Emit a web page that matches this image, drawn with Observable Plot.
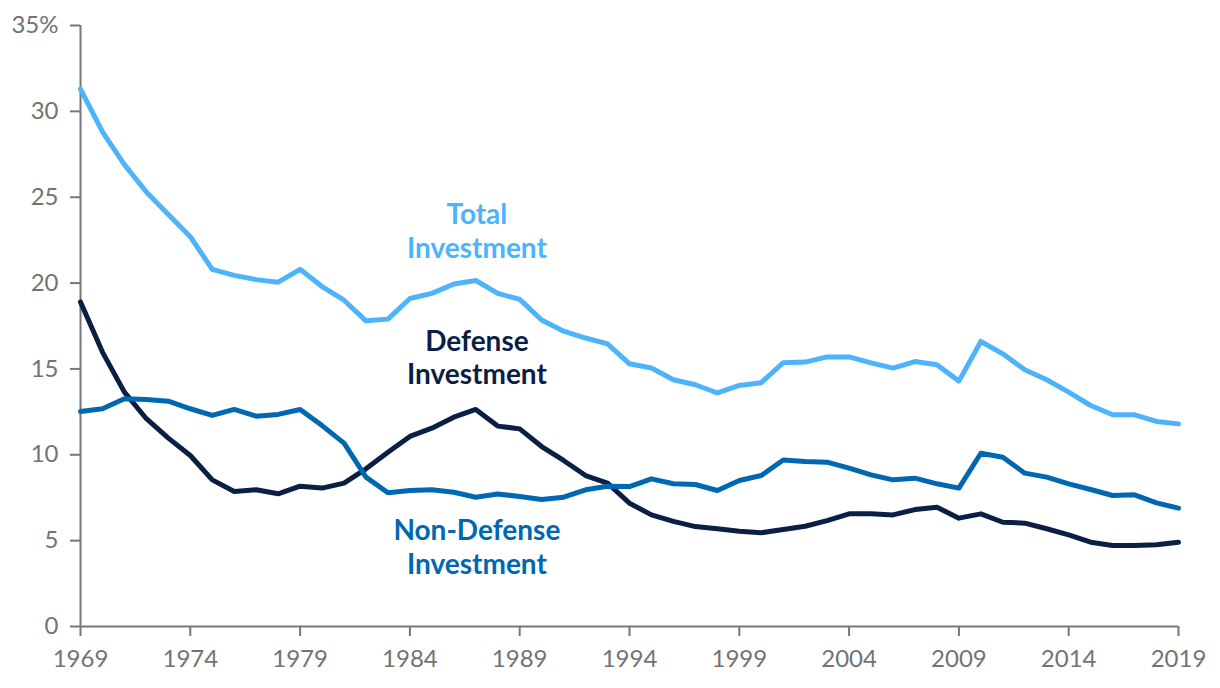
<!DOCTYPE html>
<html>
<head>
<meta charset="utf-8">
<script src="https://cdn.jsdelivr.net/npm/d3@7"></script>
<script src="https://cdn.jsdelivr.net/npm/@observablehq/plot@0.6"></script>
<style>
  html, body { margin: 0; padding: 0; background: #fff; }
  #chart { width: 1220px; height: 688px; }
</style>
</head>
<body>
<div id="chart"></div>
<script>
const years = d3.range(1969, 2020);

const totalInvestment = [
  31.3, 28.8, 26.9, 25.3, 24.0, 22.7, 20.8, 20.45, 20.2, 20.05,
  20.8, 19.8, 19.0, 17.8, 17.9, 19.1, 19.4, 19.95, 20.15, 19.4,
  19.05, 17.85, 17.2, 16.8, 16.46, 15.3, 15.05, 14.37, 14.08, 13.6,
  14.04, 14.2, 15.36, 15.4, 15.7, 15.7, 15.35, 15.05, 15.43, 15.24,
  14.29, 16.6, 15.88, 14.95, 14.37, 13.65, 12.87, 12.33, 12.33, 11.94,
  11.8
];

const defenseInvestment = [
  18.9, 15.98, 13.65, 12.1, 10.97, 9.96, 8.54, 7.86, 7.96, 7.73,
  8.17, 8.06, 8.35, 9.18, 10.15, 11.07, 11.55, 12.19, 12.64, 11.67,
  11.51, 10.48, 9.67, 8.79, 8.35, 7.18, 6.5, 6.12, 5.82, 5.69,
  5.55, 5.46, 5.65, 5.84, 6.17, 6.56, 6.56, 6.5, 6.81, 6.95,
  6.31, 6.56, 6.07, 6.02, 5.69, 5.34, 4.91, 4.72, 4.72, 4.76,
  4.91
];

const nonDefenseInvestment = [
  12.52, 12.68, 13.26, 13.22, 13.12, 12.68, 12.29, 12.64, 12.25, 12.35,
  12.64, 11.7, 10.68, 8.7, 7.79, 7.92, 7.96, 7.82, 7.53, 7.72,
  7.57, 7.4, 7.53, 7.96, 8.17, 8.15, 8.6, 8.31, 8.27, 7.92,
  8.5, 8.79, 9.7, 9.61, 9.57, 9.22, 8.83, 8.54, 8.64, 8.31,
  8.06, 10.09, 9.86, 8.93, 8.7, 8.31, 7.98, 7.63, 7.67, 7.2,
  6.89
];

const xTicks = [1969, 1974, 1979, 1984, 1989, 1994, 1999, 2004, 2009, 2014, 2019];
const yTicks = [0, 5, 10, 15, 20, 25, 30, 35];

const seriesNames = ["Total Investment", "Defense Investment", "Non-Defense Investment"];
const seriesColors = ["#4db3fb", "#0b1f44", "#0068b1"];
const labelTexts = ["Total\nInvestment", "Defense\nInvestment", "Non-Defense\nInvestment"];
const labelYears = [1987.05, 1987.05, 1987.05];
const labelValues = [23.08, 15.72, 4.66];

const seriesValues = [totalInvestment, defenseInvestment, nonDefenseInvestment];
const rows = [];
seriesNames.forEach((name, i) => {
  years.forEach((yr, j) => rows.push({series: name, year: yr, value: seriesValues[i][j]}));
});
const labels = seriesNames.map((name, i) => ({
  series: name, text: labelTexts[i], year: labelYears[i], value: labelValues[i]
}));

const axisColor = "#777777";

const chart = Plot.plot({
  width: 1220,
  height: 688,
  marginLeft: 80,
  marginRight: 42,
  marginTop: 25,
  marginBottom: 62,
  style: { fontFamily: "Lato, 'Noto Sans', sans-serif", background: "#fff", color: "#737373" },
  x: { domain: [1969, 2019], label: null },
  y: { domain: [0, 35], label: null },
  color: { domain: seriesNames, range: seriesColors },
  marks: [
    Plot.axisY({
      ticks: yTicks, tickSize: 10, tickPadding: 12, fontSize: 24,
      stroke: axisColor, strokeWidth: 2,
      tickFormat: d => d === 35 ? "35%" : String(d), label: null
    }),
    Plot.axisX({
      ticks: xTicks, tickSize: 10, tickPadding: 13, fontSize: 24,
      stroke: axisColor, strokeWidth: 2,
      tickFormat: d => String(d), label: null
    }),
    Plot.ruleX([1969], { stroke: axisColor, strokeWidth: 2 }),
    Plot.ruleY([0], { stroke: axisColor, strokeWidth: 2 }),
    Plot.line(rows, {
      x: "year", y: "value", z: "series", stroke: "series",
      strokeWidth: 5, strokeLinejoin: "round", strokeLinecap: "round"
    }),
    Plot.text(labels, {
      x: "year", y: "value", text: "text", fill: "series",
      fontSize: 28, fontWeight: "bold", lineHeight: 1.2,
      textAnchor: "middle", lineAnchor: "middle"
    })
  ]
});

document.getElementById("chart").appendChild(chart);
</script>
</body>
</html>
